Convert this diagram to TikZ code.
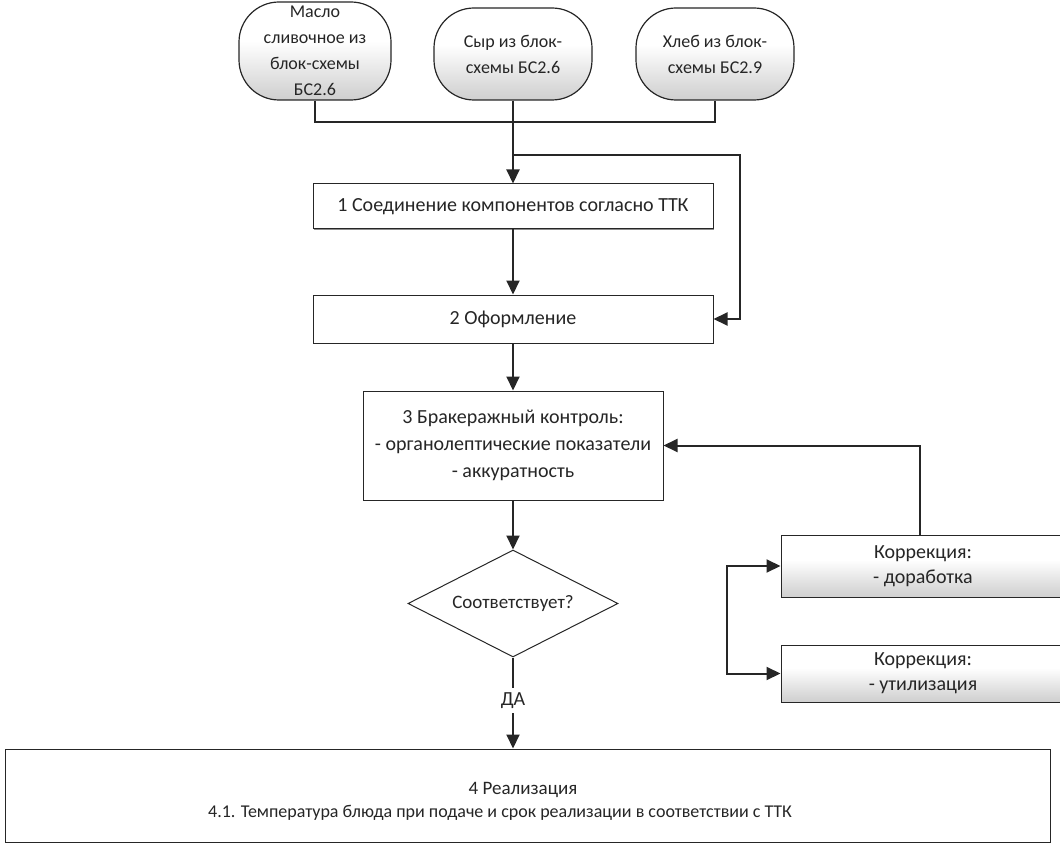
\documentclass[tikz,border=0pt]{standalone}
\usepackage{fontspec}
\setmainfont{Carlito}
\usetikzlibrary{arrows.meta,shapes.geometric,shadows}

% light fill: white in the upper part, grey towards the bottom edge
\pgfdeclareverticalshading{softgray}{100bp}{%
  color(0bp)=(black!32); color(30bp)=(black!16); color(55bp)=(white); color(100bp)=(white)}

\begin{document}
\begin{tikzpicture}[x=1pt,y=-1pt,
  every node/.style={font=\fontsize{20}{27}\selectfont, text=black!85, inner sep=0pt, align=center},
  conn/.style={line width=2pt, draw=black!85},
  arr/.style={conn, -{Triangle[length=14pt,width=13pt]}},
  boxshadow/.style={general shadow={shadow xshift=1.2pt, shadow yshift=-1.2pt, fill=black!45}},
  stepbox/.style={draw=black!85, line width=1pt, fill=white, boxshadow,
                  minimum width=#1, rectangle},
  source/.style={draw=black!85, line width=1.2pt, rounded corners=40pt,
                 shading=softgray, minimum width=#1,
                 font=\fontsize{18}{26}\selectfont},
  fix/.style={draw=black!85, line width=1pt, shading=softgray,
              boxshadow, minimum width=284pt, font=\fontsize{20}{25}\selectfont},
  decision/.style={draw=black!85, line width=1pt, diamond, shape aspect=2,
                   minimum width=210pt, minimum height=107pt, fill=white,
                   font=\fontsize{19}{24}\selectfont}]

\useasboundingbox (0,0) rectangle (1060,845);
\clip (0,0) rectangle (1060,845);

% incoming semi-finished products
\node[source=152pt, minimum height=98pt] (o1) at (315,51)
  {Масло\\сливочное из\\блок-схемы\\БС2.6};
\node[source=158pt, minimum height=92pt] (o2) at (513,54)
  {Сыр из блок-\\схемы БС2.6};
\node[source=158pt, minimum height=92pt] (o3) at (715,54)
  {Хлеб из блок-\\схемы БС2.9};

% process steps
\node[stepbox=400pt, minimum height=45pt] (b1) at (513,206.5)
  {1 Соединение компонентов согласно ТТК};
\node[stepbox=400pt, minimum height=48pt] (b2) at (513,319)
  {2 Оформление};
\node[stepbox=300pt, minimum height=109pt] (b3) at (513,445.5)
  {3 Бракеражный контроль:\\- органолептические показатели\\- аккуратность};
\node[decision] (dec) at (513,603.5) {Соответствует?};
\node (yes) at (513,701) {ДА};

% corrective actions
\node[fix, minimum height=62pt] (k1) at (923,566) {Коррекция:\\- доработка};
\node[fix, minimum height=57pt] (k2) at (923,673.5) {Коррекция:\\- утилизация};

% sale
\node[stepbox=1045pt, minimum height=93pt] (b4) at (527.5,795.5) {};
\node[font=\fontsize{19}{22}\selectfont] (t41) at (523,790) {4 Реализация};
\node[font=\fontsize{18}{22}\selectfont] (t42) at (500,813)
  {4.1. Температура блюда при подаче и срок реализации в соответствии с ТТК};

% helper points for the routed connectors
\coordinate (bus) at (513,122);
\coordinate (split) at (513,155);
\coordinate (bypass) at (740,155);
\coordinate (kret) at (920,442);
\coordinate (brk) at (727,620);

% connectors
\draw[conn] (o1.south) |- (o3.south |- bus) -- (o3.south);
\draw[arr] (o2.south) -- (b1.north);
\draw[arr] (split) -- (bypass) |- (b2.east);
\draw[arr] (b1.south) -- (b2.north);
\draw[arr] (b2.south) -- (b3.north);
\draw[arr] (b3.south) -- (dec.north);
\draw[conn] (dec.south) -- ([yshift=5pt]yes.north);
\draw[arr] ([yshift=-4pt]yes.south) -- (yes.south |- b4.north);
\draw[arr] (k1.north -| kret) |- (b3.east);
\draw[arr] (k2.west -| brk) -- (k1.west -| brk) -- (k1.west);
\draw[arr] (k1.west -| brk) -- (k2.west -| brk) -- (k2.west);
\end{tikzpicture}
\end{document}
